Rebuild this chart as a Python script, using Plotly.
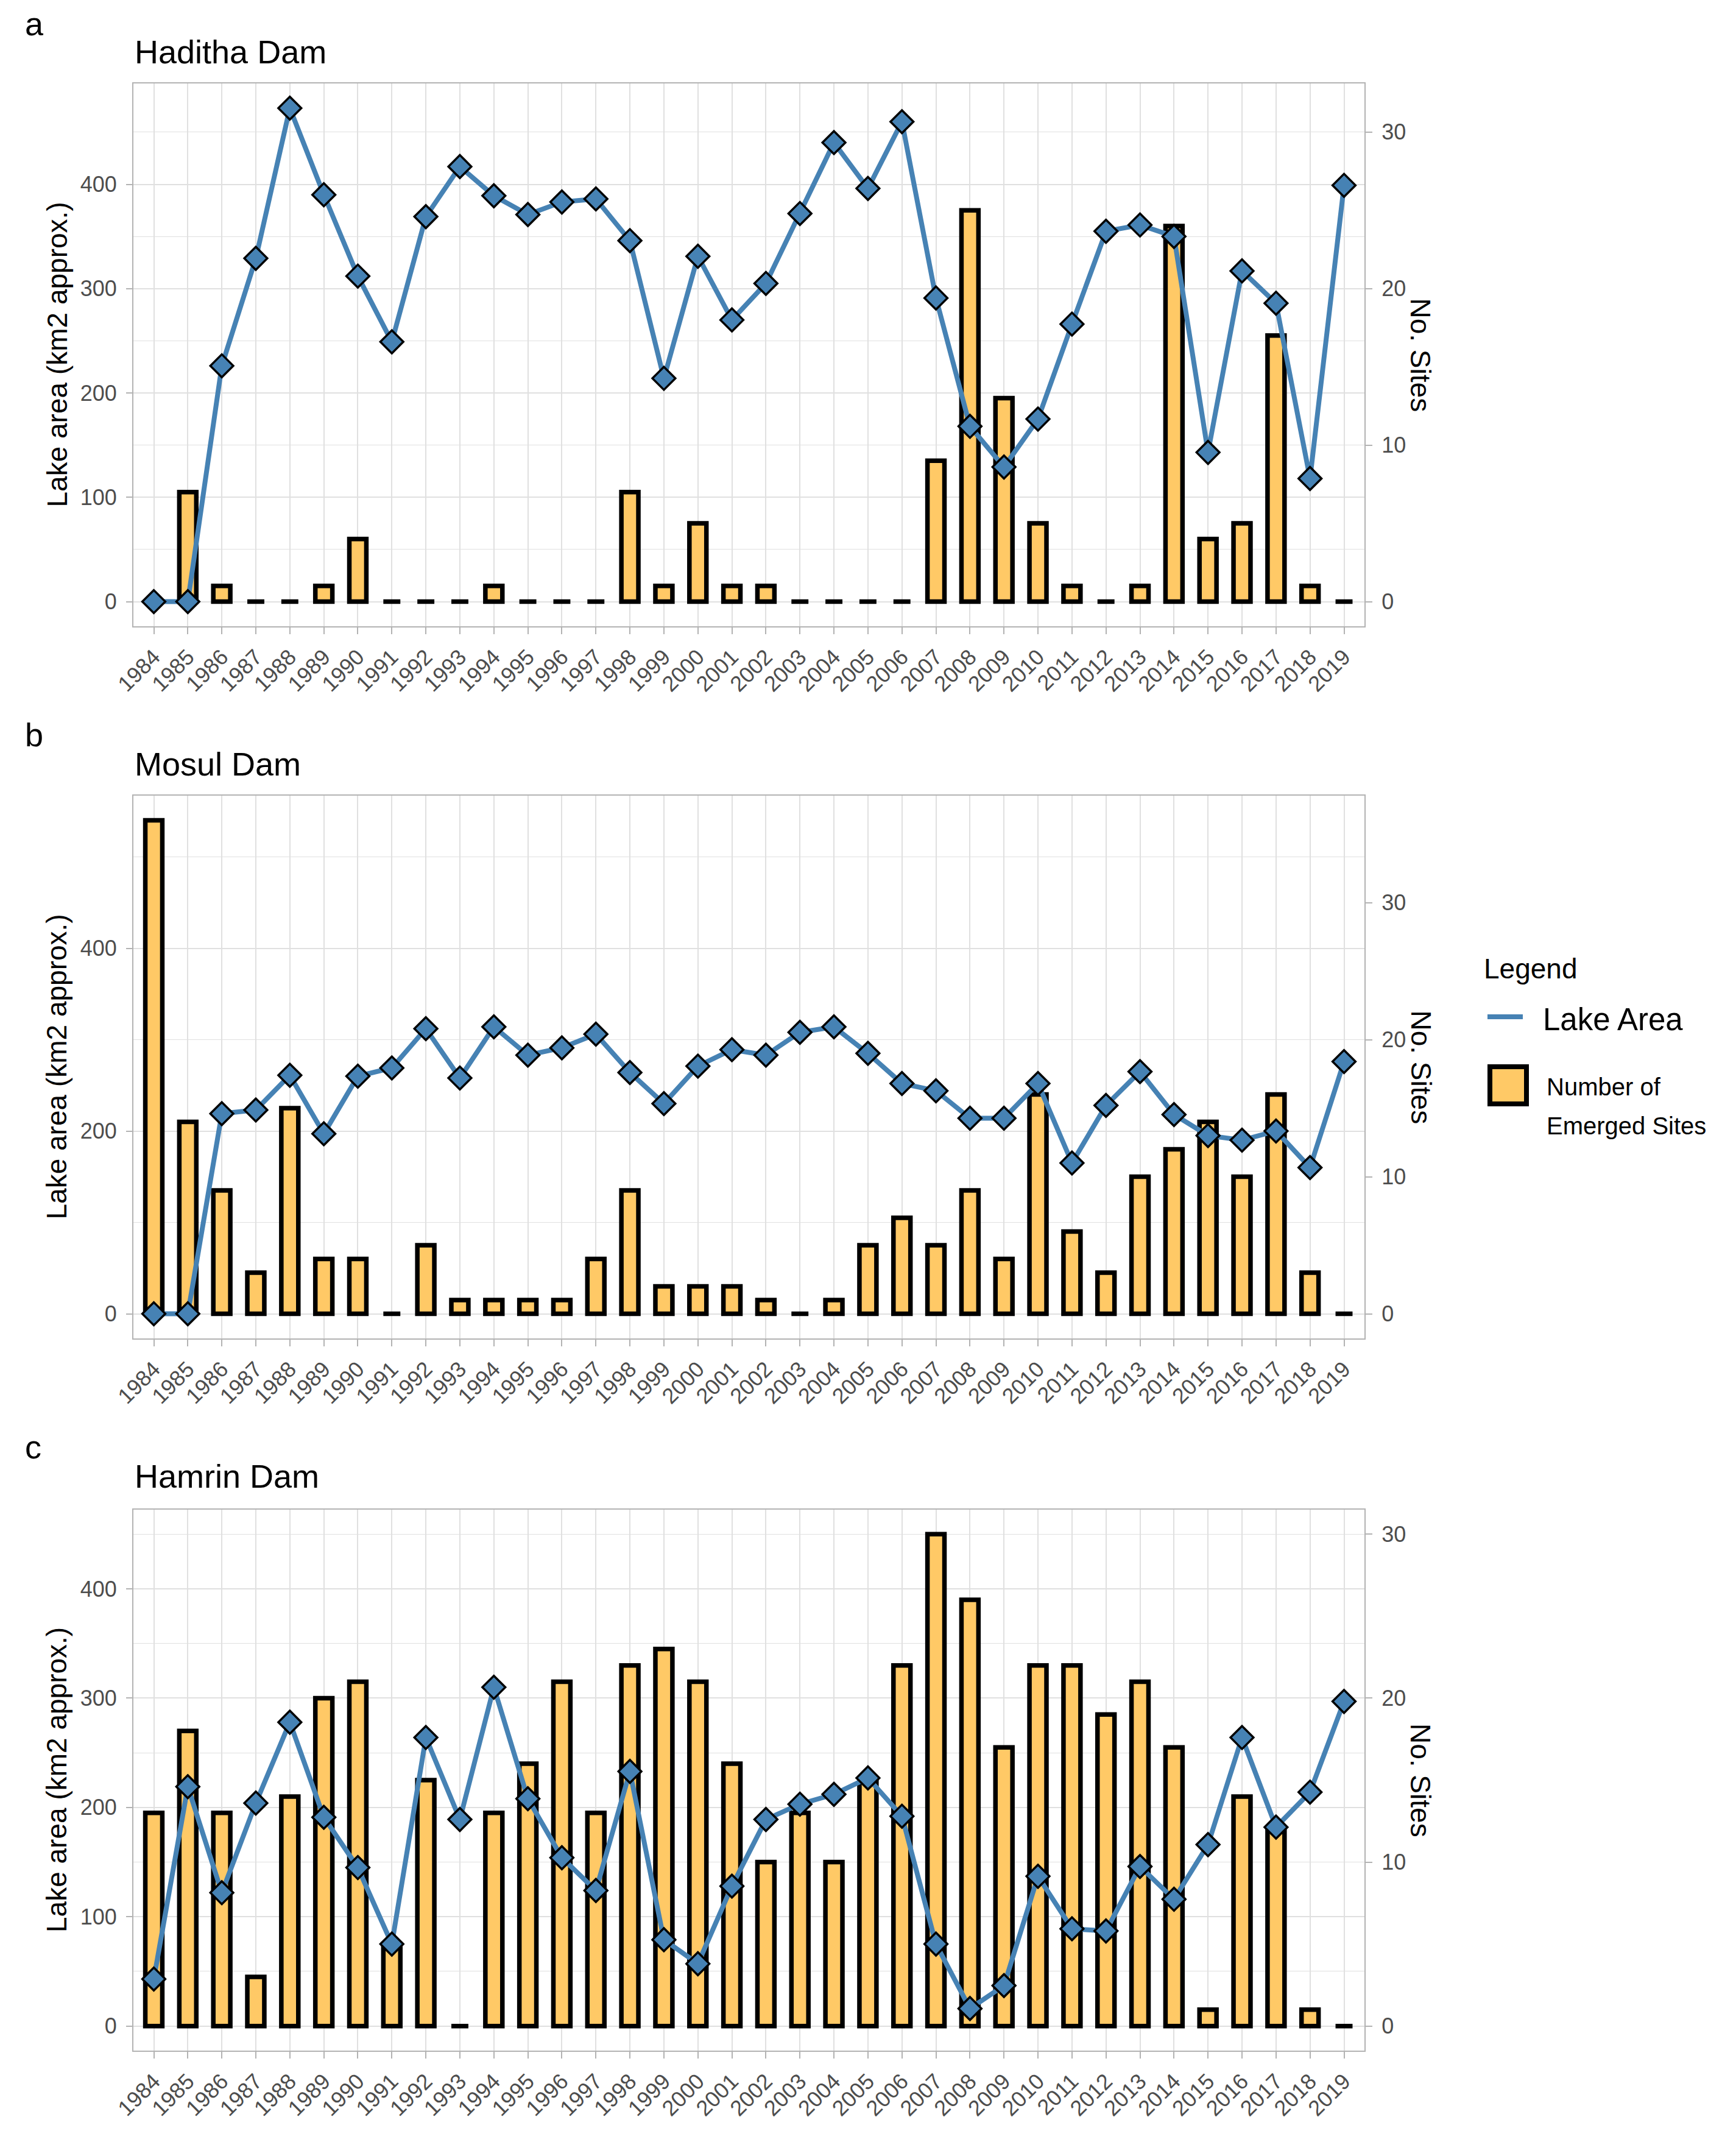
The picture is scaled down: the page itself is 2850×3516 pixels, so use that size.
import plotly.graph_objects as go

# ---------------- data ----------------
years = [str(y) for y in range(1984, 2020)]

haditha_area = [0, 0, 226, 329, 473, 390, 312, 249, 369, 417, 389, 371, 383, 386, 346, 214, 331,
                270, 305, 372, 440, 396, 460, 291, 168, 129, 175, 266, 355, 361, 350, 143, 317, 286, 118, 399]
haditha_sites = [0, 7, 1, 0, 0, 1, 4, 0, 0, 0, 1, 0, 0, 0, 7, 1, 5,
                 1, 1, 0, 0, 0, 0, 9, 25, 13, 5, 1, 0, 1, 24, 4, 5, 17, 1, 0]

mosul_area = [0, 0, 219, 223, 261, 197, 260, 269, 312, 258, 314, 283, 291, 306, 264, 230, 271,
              289, 283, 308, 314, 285, 252, 244, 214, 214, 252, 165, 228, 265, 218, 195, 190, 200, 160, 276]
mosul_sites = [36, 14, 9, 3, 15, 4, 4, 0, 5, 1, 1, 1, 1, 4, 9, 2, 2,
               2, 1, 0, 1, 5, 7, 5, 9, 4, 16, 6, 3, 10, 12, 14, 10, 16, 3, 0]

hamrin_area = [43, 219, 122, 204, 278, 191, 145, 75, 264, 189, 310, 208, 154, 124, 233, 79, 57,
               128, 189, 203, 212, 227, 192, 75, 16, 37, 137, 89, 87, 146, 116, 166, 264, 182, 214, 297]
hamrin_sites = [13, 18, 13, 3, 14, 20, 21, 5, 15, 0, 13, 16, 21, 13, 22, 23, 21,
                16, 10, 13, 10, 15, 22, 30, 26, 17, 22, 22, 19, 21, 17, 1, 14, 12, 1, 0]

panel_titles = ["Haditha Dam", "Mosul Dam", "Hamrin Dam"]
panel_letters = ["a", "b", "c"]
area_tick_step = [100, 200, 100]
site_ticks = [0, 10, 20, 30]
sec_factor = 15  # No. Sites = Lake area / 15

# ---------------- layout geometry (pixels) ----------------
W, H = 2850, 3516
plot_left, plot_right = 219, 2240
panel_px = [(137, 1028), (1306, 2197), (2478, 3366)]   # (top, bottom)
title_y = [85, 1254, 2423]
letter_y = [39, 1206, 2375]

FONT = "Arial, Liberation Sans, sans-serif"
GRID = "#E0E0E0"
BORDER = "#B3B3B3"
TICKTXT = "#4D4D4D"
BAR_FILL = "#FFC966"
LINE_COL = "#4682B4"


def fx(p):
    return p / W


def fy(p):
    return 1 - p / H


fig = go.Figure()
datasets = [(haditha_area, haditha_sites), (mosul_area, mosul_sites), (hamrin_area, hamrin_sites)]
annotations = []
layout_axes = {}

for i, (area, sites) in enumerate(datasets):
    xname = "x" if i == 0 else f"x{i + 1}"
    ybase = "y" if i == 0 else f"y{2 * i + 1}"
    yover = f"y{2 * i + 2}"
    M = max(max(area), max(sites) * sec_factor)
    area_range = [-0.05 * M, 1.05 * M]
    site_range = [r / sec_factor for r in area_range]

    fig.add_trace(go.Bar(
        x=years, y=sites, xaxis=xname, yaxis=ybase, width=0.5,
        marker=dict(color=BAR_FILL, line=dict(color="black", width=7.5)),
        name="Number of Emerged Sites", showlegend=False,
    ))
    fig.add_trace(go.Scatter(
        x=years, y=area, xaxis=xname, yaxis=yover, mode="lines+markers",
        line=dict(color=LINE_COL, width=8),
        marker=dict(symbol="diamond", size=29, color=LINE_COL, line=dict(color="black", width=3.5)),
        name="Lake Area", showlegend=False, cliponaxis=False,
    ))

    top, bot = panel_px[i]
    ydom = [fy(bot), fy(top)]
    xkey = "xaxis" if i == 0 else f"xaxis{i + 1}"
    ybkey = "yaxis" if i == 0 else f"yaxis{2 * i + 1}"
    yokey = f"yaxis{2 * i + 2}"

    layout_axes[xkey] = dict(
        domain=[fx(plot_left), fx(plot_right)], anchor=ybase, type="category",
        categoryorder="array", categoryarray=years, range=[-0.6, len(years) - 0.4],
        tickangle=-45, ticks="outside", ticklen=11, tickwidth=2, tickcolor=BORDER,
        tickfont=dict(family=FONT, size=36, color=TICKTXT),
        showgrid=True, gridcolor=GRID, gridwidth=2,
        showline=True, mirror=True, linecolor=BORDER, linewidth=2, zeroline=False,
        ticklabelstandoff=2, automargin=False,
    )
    layout_axes[ybkey] = dict(
        domain=ydom, anchor=xname, side="right", range=site_range,
        tickmode="array", tickvals=site_ticks,
        ticks="outside", ticklen=11, tickwidth=2, tickcolor=BORDER,
        tickfont=dict(family=FONT, size=36, color=TICKTXT),
        showgrid=False, zeroline=False,
        showline=True, mirror=True, linecolor=BORDER, linewidth=2,
        ticklabelstandoff=8, automargin=False,
    )
    step = area_tick_step[i]
    layout_axes[yokey] = dict(
        overlaying=ybase, anchor=xname, side="left", range=area_range,
        tick0=0, dtick=step,
        ticks="outside", ticklen=11, tickwidth=2, tickcolor=BORDER,
        tickfont=dict(family=FONT, size=36, color=TICKTXT),
        showgrid=True, gridcolor=GRID, gridwidth=2, zeroline=False,
        minor=dict(tick0=0, dtick=step / 2, showgrid=True, gridcolor=GRID, gridwidth=1.3, ticklen=0),
        showline=False, ticklabelstandoff=8, automargin=False,
    )

    mid = (top + bot) / 2
    annotations += [
        dict(text=panel_titles[i], x=fx(plot_left), y=fy(title_y[i]), xref="paper", yref="paper",
             xanchor="left", yanchor="middle", showarrow=False,
             font=dict(family=FONT, size=54, color="black")),
        dict(text=panel_letters[i], x=fx(39), y=fy(letter_y[i]), xref="paper", yref="paper",
             xanchor="left", yanchor="middle", showarrow=False,
             font=dict(family=FONT, size=54, color="black")),
        dict(text="Lake area (km2 approx.)", x=fx(93), y=fy(mid), xref="paper", yref="paper",
             xanchor="center", yanchor="middle", textangle=-90, showarrow=False,
             font=dict(family=FONT, size=46, color="black")),
        dict(text="No. Sites", x=fx(2332), y=fy(mid), xref="paper", yref="paper",
             xanchor="center", yanchor="middle", textangle=90, showarrow=False,
             font=dict(family=FONT, size=46, color="black")),
    ]

# ---------------- custom legend ----------------
annotations += [
    dict(text="Legend", x=fx(2434), y=fy(1590), xref="paper", yref="paper", xanchor="left",
         yanchor="middle", showarrow=False, font=dict(family=FONT, size=46, color="black")),
    dict(text="Lake Area", x=fx(2531), y=fy(1673), xref="paper", yref="paper", xanchor="left",
         yanchor="middle", showarrow=False, font=dict(family=FONT, size=51, color="black")),
    dict(text="Number of", x=fx(2537), y=fy(1784), xref="paper", yref="paper", xanchor="left",
         yanchor="middle", showarrow=False, font=dict(family=FONT, size=40, color="black")),
    dict(text="Emerged Sites", x=fx(2537), y=fy(1848), xref="paper", yref="paper", xanchor="left",
         yanchor="middle", showarrow=False, font=dict(family=FONT, size=40, color="black")),
]
shapes = [
    dict(type="line", xref="paper", yref="paper", x0=fx(2442), x1=fx(2500), y0=fy(1669), y1=fy(1669),
         line=dict(color=LINE_COL, width=8)),
    dict(type="rect", xref="paper", yref="paper", x0=fx(2446), x1=fx(2506), y0=fy(1812), y1=fy(1751),
         fillcolor=BAR_FILL, line=dict(color="black", width=8)),
]

fig.update_layout(
    width=W, height=H, autosize=False,
    margin=dict(l=0, r=0, t=0, b=0, pad=0),
    paper_bgcolor="white", plot_bgcolor="white",
    font=dict(family=FONT, color="black"),
    barmode="overlay", showlegend=False,
    annotations=annotations, shapes=shapes,
    **layout_axes,
)

fig.write_html(
    "out.html",
    config={"displayModeBar": False},
    post_script="document.body.style.margin='0';document.body.style.padding='0';",
)
